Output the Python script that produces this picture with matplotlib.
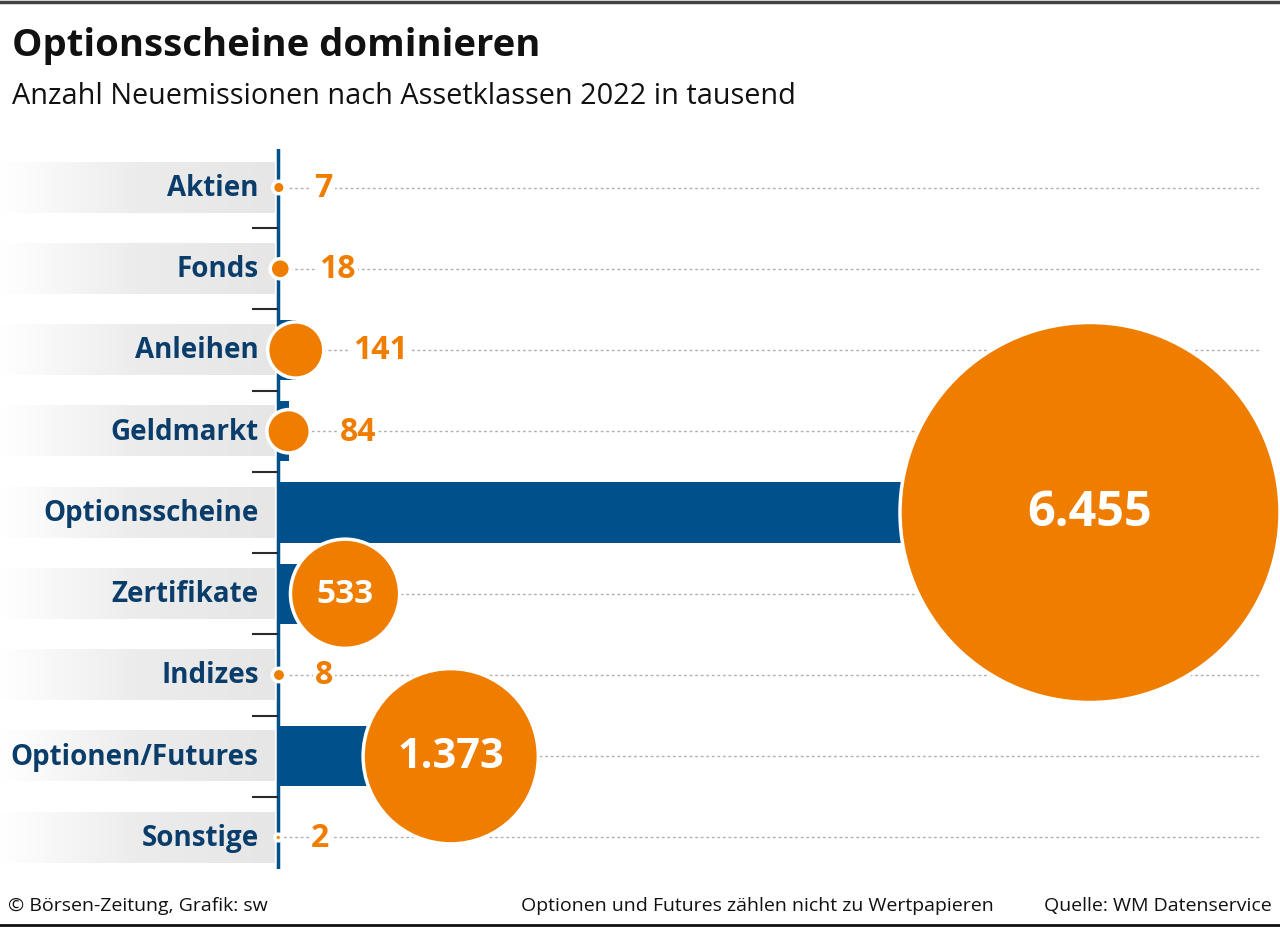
import numpy as np
import matplotlib
matplotlib.use('Agg')
import matplotlib.pyplot as plt
from matplotlib.colors import LinearSegmentedColormap

# Daten: Neuemissionen 2022 in tausend
kategorien = ['Aktien', 'Fonds', 'Anleihen', 'Geldmarkt', 'Optionsscheine',
              'Zertifikate', 'Indizes', 'Optionen/Futures', 'Sonstige']
werte = [7, 18, 141, 84, 6455, 533, 8, 1373, 2]
wert_labels = ['7', '18', '141', '84', '6.455', '533', '8', '1.373', '2']

plt.rcParams['font.family'] = ['Open Sans', 'DejaVu Sans']

NAVY = '#00508c'
TEXTBLAU = '#0b3d6b'
ORANGE = '#ef7d00'

W, H = 1280, 928
fig = plt.figure(figsize=(W / 100, H / 100), dpi=100)

# Achse: links=Pixel 0, rechts=Pixel 1262, oben=150, unten=870
px_per_unit = 812 / max(werte)
ax = fig.add_axes([0, (H - 870) / H, 1262 / W, 720 / H])
ax.set_xlim(-278 / px_per_unit, 984 / px_per_unit)
ax.set_ylim((870 - 188.5) / 81.25, (150 - 188.5) / 81.25)
ax.axis('off')

y = np.arange(len(kategorien))

# graue Hintergrundbalken mit Verlauf fuer die Beschriftungen
cmap = LinearSegmentedColormap.from_list('band', ['#ffffff', '#ececec', '#e6e6e6'])
grad = np.linspace(0, 1, 256).reshape(1, -1)
for i in y:
    ax.imshow(grad, cmap=cmap, aspect='auto', zorder=0,
              extent=[-278 / px_per_unit, -3 / px_per_unit, i + 0.31, i - 0.31])

# gestrichelte Hilfslinien
ax.hlines(y, 0, ax.get_xlim()[1], colors='#b0b0b0', linestyles=(0, (2, 2)), lw=1, zorder=1)

# Balken
ax.barh(y, werte, height=0.74, color=NAVY, zorder=2)

# Achsenlinie und Trennstriche
ax.axvline(0, color=NAVY, lw=2.5, zorder=3)
ax.hlines(y[:-1] + 0.5, -26 / px_per_unit, 0, colors='#2a2a2a', lw=1.5, zorder=3)

# Kreise: Flaeche proportional zum Wert
r_px = 190 * np.sqrt(np.array(werte) / max(werte))
s = (2 * r_px * 0.72) ** 2
ax.scatter(werte, y, s=s, color=ORANGE, edgecolors='white', linewidths=2.5,
           zorder=4, clip_on=False)

for i, (v, lab, r) in enumerate(zip(werte, wert_labels, r_px)):
    ax.annotate(kategorien[i], (0, i), xytext=(-14, 0), textcoords='offset points',
                ha='right', va='center', fontsize=20, fontweight='bold', color=TEXTBLAU)
    if r > 40:
        fs = np.interp(r, [55, 88, 190], [24, 30, 35])
        ax.annotate(lab, (v, i), ha='center', va='center', fontsize=fs,
                    fontweight='bold', color='white', zorder=5)
    else:
        ax.annotate(lab, (v, i), xytext=(r * 0.72 + 21, 0), textcoords='offset points',
                    ha='left', va='center', fontsize=23, fontweight='bold', color=ORANGE,
                    zorder=5, bbox=dict(fc='white', ec='none', pad=1.5))

# Titel und Fusszeilen
fig.text(12 / W, 1 - 46 / H, 'Optionsscheine dominieren', fontsize=27.5,
         fontweight='bold', color='#111111', ha='left', va='center')
fig.text(12 / W, 1 - 96 / H, 'Anzahl Neuemissionen nach Assetklassen 2022 in tausend',
         fontsize=20.8, color='#111111', ha='left', va='center')
fig.text(8 / W, 1 - 906 / H, '© Börsen-Zeitung, Grafik: sw', fontsize=14,
         color='#111111', ha='left', va='center')
fig.text(994 / W, 1 - 906 / H, 'Optionen und Futures zählen nicht zu Wertpapieren',
         fontsize=14, color='#111111', ha='right', va='center')
fig.text(1272 / W, 1 - 906 / H, 'Quelle: WM Datenservice', fontsize=14,
         color='#111111', ha='right', va='center')

fig.add_artist(plt.Line2D([0, 1], [1 - 3 / H, 1 - 3 / H], color='#444444', lw=2.5))
fig.add_artist(plt.Line2D([0, 1], [1 - 926 / H, 1 - 926 / H], color='#111111', lw=2))

fig.savefig('out.png', dpi=100)
